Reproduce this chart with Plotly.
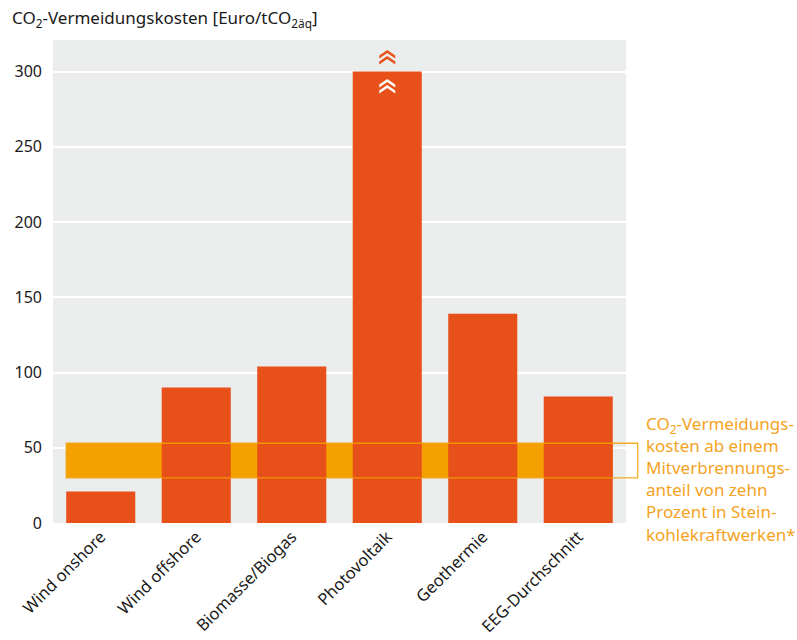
import plotly.graph_objects as go

# Data
categories = ["Wind onshore", "Wind offshore", "Biomasse/Biogas", "Photovoltaik", "Geothermie", "EEG-Durchschnitt"]
costs = [21, 90, 104, 300, 139, 84]
band_low = 30
band_high = 53
y_ticks = [0, 50, 100, 150, 200, 250, 300]
y_max = 321
broken_bar = "Photovoltaik"

BAR = "#E8501A"
BAND = "#F4A000"
BG = "#EBECEC"
TXT_ORANGE = "#F4A31E"
FONT = "Noto Sans"

bargap = 0.277
half_w = (1 - bargap) / 2
n = len(categories)

fig = go.Figure()
fig.add_trace(go.Bar(x=categories, y=costs, marker=dict(color=BAR, line=dict(width=0)),
                     hoverinfo="x+y"))

# Co-firing cost band: filled behind the bars, outline on top reaching out to the label
fig.add_shape(type="rect", xref="x", yref="y", x0=-half_w, x1=n - 1 + half_w,
              y0=band_low, y1=band_high, fillcolor=BAND, line=dict(width=0), layer="between")
fig.add_shape(type="rect", xref="paper", yref="paper",
              x0=(0.5 - half_w) / n, x1=1.0205,
              y0=band_low / y_max, y1=band_high / y_max, fillcolor="rgba(0,0,0,0)",
              line=dict(color="rgba(244,160,0,0.85)", width=1.3), layer="above")

# Double chevrons marking the truncated bar
bi = categories.index(broken_bar)
bv = costs[bi]
chev = [(-8, 0), (0, 5.5), (8, 0), (8, -2.8), (0, 2.6), (-8, -2.8)]
def double_chevron(dy, color):
    for off in (0, 6):
        path = "M " + " L ".join(f"{a:.1f},{b + dy + off:.1f}" for a, b in chev) + " Z"
        fig.add_shape(type="path", xref="x", yref="y", xsizemode="pixel", ysizemode="pixel",
                      xanchor=bi, yanchor=bv, path=path,
                      fillcolor=color, line=dict(width=0), layer="above")

double_chevron(-19, "white")
double_chevron(10, BAR)

fig.add_annotation(
    xref="paper", yref="paper", x=-0.075, y=1.0, yshift=7,
    xanchor="left", yanchor="bottom", showarrow=False,
    text="CO<sub>2</sub>-Vermeidungskosten [Euro/tCO<sub>2äq</sub>]",
    font=dict(family=FONT, size=17, color="#1a1a1a"))

fig.add_annotation(
    xref="paper", yref="y", x=1.031, y=band_high + 22, xanchor="left", yanchor="top",
    showarrow=False, align="left",
    text="CO<sub>2</sub>-Vermeidungs-<br>kosten ab einem<br>Mitverbrennungs-<br>"
         "anteil von zehn<br>Prozent in Stein-<br>kohlekraftwerken*",
    font=dict(family=FONT, size=17, color=TXT_ORANGE))

fig.update_layout(
    width=797, height=640,
    margin=dict(l=53, r=171, t=40, b=117),
    paper_bgcolor="white", plot_bgcolor=BG,
    bargap=bargap, showlegend=False,
    font=dict(family=FONT, size=15, color="#1a1a1a"),
)
fig.update_xaxes(type="category", tickangle=-45, showgrid=False, ticks="", automargin=False,
                 tickfont=dict(size=16.5), range=[-0.5, n - 0.5])
fig.update_yaxes(range=[0, y_max], tickvals=y_ticks, showgrid=True, gridcolor="white",
                 gridwidth=2, zeroline=False, ticks="", tickfont=dict(size=16), automargin=False,
                 ticklabelstandoff=10)

fig.write_html("out.html")
